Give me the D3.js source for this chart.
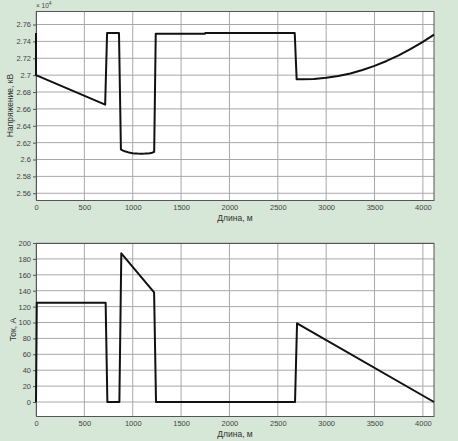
<!DOCTYPE html>
<html>
<head>
<meta charset="utf-8">
<script src="https://cdn.jsdelivr.net/npm/d3@7"></script>
<style>
  body { margin: 0; background: #d6e6d7; }
  svg { display: block; font-family: "Liberation Sans", Arial, sans-serif; }
</style>
</head>
<body>
<div id="chart"></div>
<script>
// voltage, x10^4 kV, against length in m
var voltX = [0, 0, 715, 735, 858, 878, 900, 925, 950, 975, 1000, 1025, 1050, 1075, 1100, 1125, 1150, 1175, 1200, 1222, 1238, 1745, 1750, 2675, 2695, 2750, 2875, 3000, 3125, 3250, 3375, 3500, 3625, 3750, 3875, 4000, 4115];
var voltY = [2.75, 2.70, 2.665, 2.75, 2.75, 2.612, 2.6105, 2.6095, 2.6087, 2.608, 2.6075, 2.6072, 2.607, 2.6069, 2.6069, 2.607, 2.6072, 2.6075, 2.608, 2.609, 2.749, 2.749, 2.750, 2.750, 2.695, 2.695, 2.6954, 2.697, 2.699, 2.702, 2.7061, 2.711, 2.7168, 2.7235, 2.731, 2.7395, 2.748];
var voltTicks = [2.56, 2.58, 2.6, 2.62, 2.64, 2.66, 2.68, 2.7, 2.72, 2.74, 2.76];

// current, A
var curX = [0, 8, 720, 738, 862, 882, 1221, 1241, 2678, 2699, 4115];
var curY = [0, 125, 125, 0, 0, 187, 138, 0, 0, 99, 0];
var curTicks = [0, 20, 40, 60, 80, 100, 120, 140, 160, 180, 200];

var lenTicks = [0, 500, 1000, 1500, 2000, 2500, 3000, 3500, 4000];

var width = 458, height = 441;
var svg = d3.select('#chart').append('svg')
    .attr('width', width)
    .attr('height', height);

var drawPanel = function(opts) {
    var x = d3.scaleLinear().domain([0, 4115]).range([36, 434]);
    var y = d3.scaleLinear().domain(opts.yDomain).range([opts.bottom, opts.top]);
    var g = svg.append('g');

    g.append('rect')
        .attr('x', 36).attr('y', opts.top)
        .attr('width', 398).attr('height', opts.bottom - opts.top)
        .attr('fill', '#fff');

    // grid
    g.selectAll('.vg').data(lenTicks).enter().append('line')
        .attr('x1', d => x(d)).attr('x2', d => x(d))
        .attr('y1', opts.top).attr('y2', opts.bottom)
        .attr('stroke', '#a8a8a8').attr('stroke-width', 1);
    g.selectAll('.hg').data(opts.ticks).enter().append('line')
        .attr('x1', 36).attr('x2', 434)
        .attr('y1', d => y(d)).attr('y2', d => y(d))
        .attr('stroke', '#a8a8a8').attr('stroke-width', 1);

    var xAxis = g.append('g')
        .attr('transform', 'translate(0,' + opts.bottom + ')')
        .call(d3.axisBottom(x).tickValues(lenTicks).tickSize(0).tickPadding(5).tickFormat(d3.format('d')));
    var yAxis = g.append('g')
        .attr('transform', 'translate(36,0)')
        .call(d3.axisLeft(y).tickValues(opts.ticks).tickSize(3).tickPadding(2).tickFormat(opts.fmt));
    [xAxis, yAxis].forEach(function(a) {
        a.select('.domain').remove();
        a.selectAll('text').attr('font-size', 7.5).attr('fill', '#444').attr('font-family', '"Liberation Sans", Arial, sans-serif');
        a.selectAll('line').attr('stroke', '#555');
    });

    g.append('rect')
        .attr('x', 36.5).attr('y', opts.top + 0.5)
        .attr('width', 397.5).attr('height', opts.bottom - opts.top)
        .attr('fill', 'none').attr('stroke', '#555').attr('stroke-width', 1);

    var line = d3.line()
        .x(function(d) { return x(d[0]); })
        .y(function(d) { return y(d[1]); });

    g.append('path')
        .datum(d3.zip(opts.xs, opts.ys))
        .attr('fill', 'none')
        .attr('stroke', '#111')
        .attr('stroke-width', 2)
        .attr('stroke-linejoin', 'round')
        .attr('d', line);

    g.append('text')
        .attr('x', 235).attr('y', opts.bottom + 21)
        .attr('text-anchor', 'middle')
        .attr('font-size', 8.5).attr('fill', '#333')
        .text('Длина, м');

    g.append('text')
        .attr('transform', 'translate(' + opts.labelX + ',' + ((opts.top + opts.bottom) / 2) + ') rotate(-90)')
        .attr('text-anchor', 'middle')
        .attr('font-size', 8.5).attr('fill', '#333')
        .text(opts.label);
};

drawPanel({
    top: 11, bottom: 200, yDomain: [2.552, 2.776],
    ticks: voltTicks, fmt: d3.format('~g'),
    xs: voltX, ys: voltY, label: 'Напряжение, кВ', labelX: 13
});

drawPanel({
    top: 243, bottom: 416, yDomain: [-17.6, 200],
    ticks: curTicks, fmt: d3.format('d'),
    xs: curX, ys: curY, label: 'Ток, А', labelX: 16
});

var mult = svg.append('text')
    .attr('x', 36).attr('y', 8)
    .attr('font-size', 6.5).attr('fill', '#444');
mult.append('tspan').text('× 10');
mult.append('tspan').attr('dy', -3).attr('font-size', 5).text('4');
</script>
</body>
</html>
